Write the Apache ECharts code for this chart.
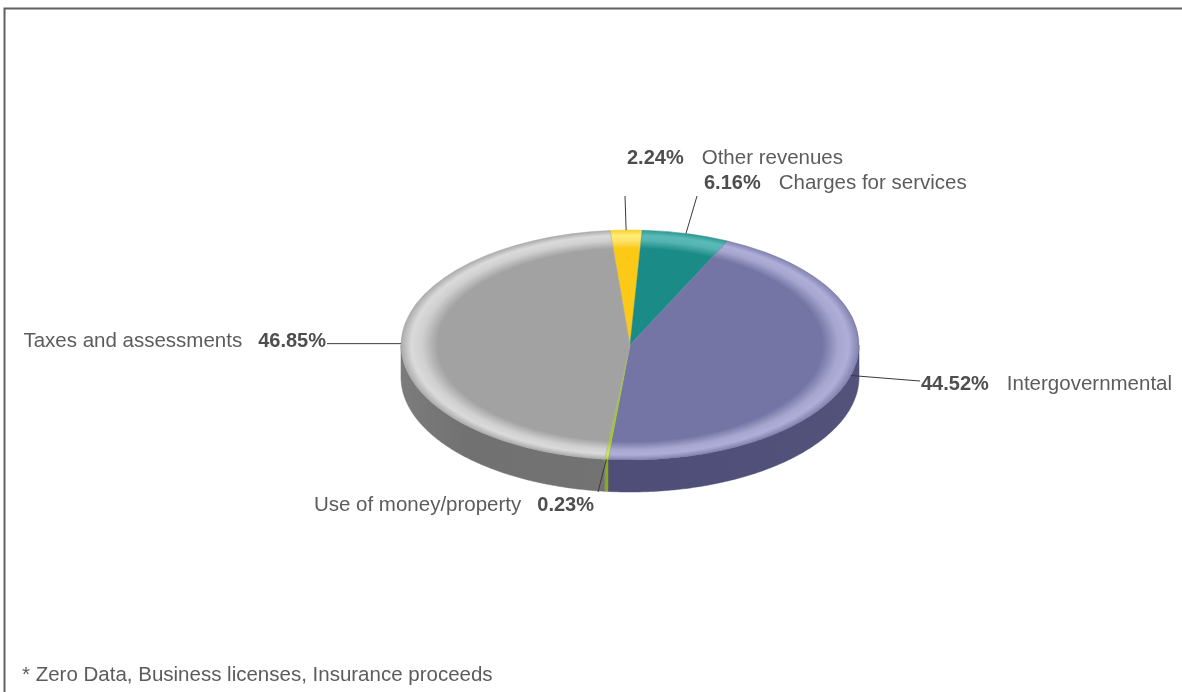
<!DOCTYPE html>
<html>
<head>
<meta charset="utf-8">
<script src="https://cdn.jsdelivr.net/npm/echarts@6/dist/echarts.min.js"></script>
<style>
  html, body { margin: 0; padding: 0; background: #ffffff; }
  #chart { width: 1182px; height: 692px; }
</style>
</head>
<body>
<div id="chart"></div>
<script>
// Revenue shares, listed clockwise from the top of the pie
const categories = ['Other revenues', 'Charges for services', 'Intergovernmental', 'Use of money/property', 'Taxes and assessments'];
const shares = [2.24, 6.16, 44.52, 0.23, 46.85];
const footnote = '* Zero Data, Business licenses, Insurance proceeds';

// Pie geometry (pixels) and the angle where the first slice starts (degrees clockwise from 12 o'clock)
const CX = 630, CY = 345, RX = 229, RY = 115, DEPTH = 32;
const START_DEG = -5;

// Colours per slice: top face base, rim highlight, side face
const palette = [
  { base: '#fbc916', light: '#fde36e', side: '#d9a90c' },
  { base: '#1b8b88', light: '#54b3b0', side: '#146a68' },
  { base: '#7575a5', light: '#a6a6cf', side: '#4b4b76' },
  { base: '#a2c630', light: '#c4e05a', side: '#88a820' },
  { base: '#a2a2a2', light: '#d0d0d0', side: '#717171' }
];

// Where each leader line ends and how its label sits
const labelLayout = [
  { end: [625, 196], tx: 627, ty: 158, align: 'left', pctFirst: true },
  { end: [697, 196], tx: 704, ty: 183, align: 'left', pctFirst: true },
  { end: [920, 381], tx: 921, ty: 384, align: 'left', pctFirst: true },
  { end: [598, 492], tx: 594, ty: 505, align: 'right', pctFirst: false },
  { end: [327, null], tx: 326, ty: 341, align: 'right', pctFirst: false }
];

const FONT = 'Liberation Sans, Arial, sans-serif';
const total = shares.reduce((s, v) => s + v, 0);
const rad = d => d * Math.PI / 180;
// point on the top rim, angle measured clockwise from 12 o'clock
const rim = (deg, dy) => [CX + RX * Math.sin(rad(deg)), CY - RY * Math.cos(rad(deg)) + (dy || 0)];

function sliceAngles(i, v) {
  let acc = 0;
  for (let k = 0; k < i; k++) acc += shares[k];
  const a0 = START_DEG + acc / total * 360;
  return [a0, a0 + v / total * 360];
}

const rich = {
  pl: { fontFamily: FONT, fontSize: 20, fontWeight: 'bold', fill: '#4e4e4e', color: '#4e4e4e', padding: [0, 18, 0, 0] },
  pr: { fontFamily: FONT, fontSize: 20, fontWeight: 'bold', fill: '#4e4e4e', color: '#4e4e4e', padding: [0, 0, 0, 16] },
  n: { fontFamily: FONT, fontSize: 20.5, fill: '#5c5c5c', color: '#5c5c5c' }
};

function renderItem(params, api) {
  const i = params.dataIndex;
  const v = api.value(0);
  const [a0, a1] = sliceAngles(i, v);
  const col = palette[i];
  const children = [];

  // side wall: only the front half (90..270 deg) is visible
  const s0 = Math.max(a0, 90), s1 = Math.min(a1, 270);
  if (s1 > s0) {
    const pts = [];
    const steps = Math.max(2, Math.ceil((s1 - s0) / 0.5));
    for (let k = 0; k <= steps; k++) pts.push(rim(s0 + (s1 - s0) * k / steps));
    for (let k = steps; k >= 0; k--) pts.push(rim(s0 + (s1 - s0) * k / steps, DEPTH));
    children.push({
      type: 'polygon',
      z2: 1,
      shape: { points: pts },
      style: {
        fill: new echarts.graphic.LinearGradient(CX - RX, 0, CX + RX, 0, [
          { offset: 0, color: echarts.color.lift(col.side, -0.1) },
          { offset: 0.15, color: col.side },
          { offset: 1, color: echarts.color.lift(col.side, 0.04) }
        ], true),
        stroke: col.side,
        lineWidth: 0.5
      }
    });
  }

  // top face: circular sector squashed into the ellipse, with a bevelled rim
  children.push({
    type: 'group',
    z2: 5,
    originX: CX,
    originY: CY,
    scaleY: RY / RX,
    children: [{
      type: 'sector',
      z2: 5,
      shape: { cx: CX, cy: CY, r0: 0, r: RX, startAngle: rad(a0 - 90), endAngle: rad(a1 - 90), clockwise: true },
      style: {
        fill: new echarts.graphic.RadialGradient(CX, CY, RX, [
          { offset: 0, color: col.base },
          { offset: 0.84, color: col.base },
          { offset: 0.91, color: col.light },
          { offset: 0.955, color: echarts.color.lift(col.light, -0.05) },
          { offset: 1, color: echarts.color.lift(col.base, 0.1) }
        ], true),
        stroke: col.base,
        lineWidth: 0.6
      }
    }]
  });

  // leader line from the middle of the slice's rim out to its label
  const mid = (a0 + a1) / 2;
  const lay = labelLayout[i];
  const start = rim(mid);
  const end = [lay.end[0], lay.end[1] == null ? start[1] : lay.end[1]];
  children.push({
    type: 'polyline',
    z2: 8,
    shape: { points: [start, end] },
    style: { stroke: '#3a3a3a', lineWidth: 1, fill: null }
  });

  const pct = v.toFixed(2) + '%';
  const txt = lay.pctFirst ? '{pl|' + pct + '}{n|' + categories[i] + '}' : '{n|' + categories[i] + '}{pr|' + pct + '}';
  children.push({
    type: 'text',
    z2: 9,
    style: {
      x: lay.tx, y: lay.ty,
      text: txt,
      rich: rich,
      align: lay.align,
      verticalAlign: 'middle',
      font: '20.5px ' + FONT,
      fill: '#5c5c5c'
    }
  });

  return { type: 'group', children: children };
}

const chart = echarts.init(document.getElementById('chart'), null, { renderer: 'canvas' });
chart.setOption({
  animation: false,
  backgroundColor: '#ffffff',
  graphic: [
    {
      type: 'polyline',
      shape: { points: [[4.5, 692], [4.5, 8.5], [1182, 8.5]] },
      style: { stroke: '#606060', lineWidth: 2, fill: null }
    },
    {
      type: 'text',
      left: 22,
      top: 665,
      style: { text: footnote, font: '20.5px ' + FONT, fill: '#5c5c5c' }
    }
  ],
  series: [{
    type: 'custom',
    coordinateSystem: 'none',
    renderItem: renderItem,
    data: shares.map((v, i) => ({ name: categories[i], value: [v] }))
  }]
});
</script>
</body>
</html>
